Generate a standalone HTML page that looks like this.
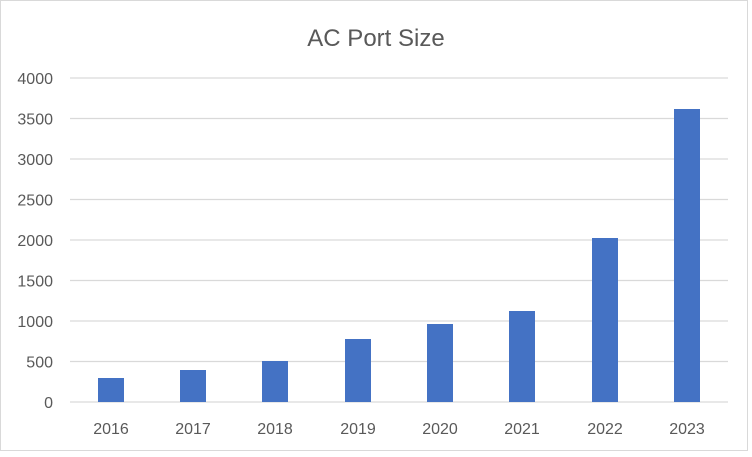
<!DOCTYPE html>
<html><head><style>body{margin:0;background:#fff}</style></head><body>
<svg width="752" height="452" xmlns="http://www.w3.org/2000/svg" font-family="Liberation Sans, sans-serif">
<rect x="0.5" y="0.5" width="747" height="450" fill="#fff" stroke="#d9d9d9"/>
<text x="376" y="46" text-anchor="middle" font-size="24" fill="#595959">AC Port Size</text>
<g stroke="#d9d9d9" stroke-width="1.3">
<line x1="70" x2="728" y1="78" y2="78"/><line x1="70" x2="728" y1="118.5" y2="118.5"/>
<line x1="70" x2="728" y1="159" y2="159"/><line x1="70" x2="728" y1="199.5" y2="199.5"/>
<line x1="70" x2="728" y1="240" y2="240"/><line x1="70" x2="728" y1="280.5" y2="280.5"/>
<line x1="70" x2="728" y1="321" y2="321"/><line x1="70" x2="728" y1="361.5" y2="361.5"/>
<line x1="70" x2="728" y1="402" y2="402"/>
</g>
<g font-size="16" fill="#595959" text-anchor="end">
<text x="53" y="84">4000</text><text x="53" y="124.5">3500</text><text x="53" y="165">3000</text>
<text x="53" y="205.5">2500</text><text x="53" y="246">2000</text><text x="53" y="286.5">1500</text>
<text x="53" y="327">1000</text><text x="53" y="367.5">500</text><text x="53" y="408">0</text>
</g>
<g fill="#4472c4">
<rect x="98" y="378" width="26" height="24"/>
<rect x="180" y="370" width="26" height="32"/>
<rect x="262" y="361" width="26" height="41"/>
<rect x="345" y="339" width="26" height="63"/>
<rect x="427" y="324" width="26" height="78"/>
<rect x="509" y="311" width="26" height="91"/>
<rect x="592" y="238" width="26" height="164"/>
<rect x="674" y="109" width="26" height="293"/>
</g>
<g font-size="16" fill="#595959" text-anchor="middle">
<text x="111" y="434">2016</text><text x="193" y="434">2017</text><text x="275" y="434">2018</text>
<text x="358" y="434">2019</text><text x="440" y="434">2020</text><text x="522" y="434">2021</text>
<text x="605" y="434">2022</text><text x="687" y="434">2023</text>
</g>
</svg>
</body></html>
